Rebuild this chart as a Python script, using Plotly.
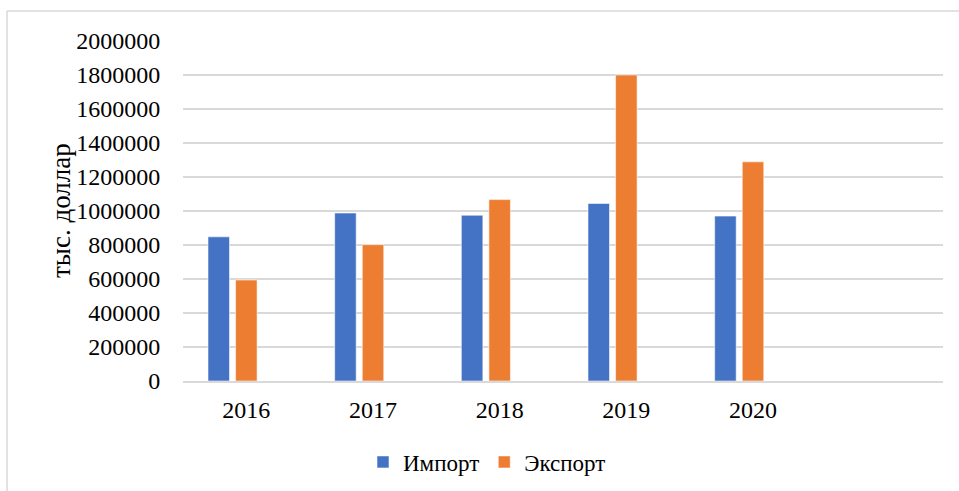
import plotly.graph_objects as go

years = ["2016", "2017", "2018", "2019", "2020", " "]
import_vals = [848000, 988000, 975000, 1044000, 970000, None]
export_vals = [594000, 802000, 1067000, 1800000, 1289000, None]
blank_vals = [None, None, None, None, None, None]
y_ticks = [0, 200000, 400000, 600000, 800000, 1000000, 1200000, 1400000, 1600000, 1800000, 2000000]

FONT = "Times New Roman, Liberation Serif, serif"

fig = go.Figure()
fig.add_trace(go.Bar(x=years, y=import_vals, name="Импорт",
                     marker=dict(color="#4472C4", line=dict(color="rgba(255,255,255,0.55)", width=1))))
fig.add_trace(go.Bar(x=years, y=export_vals, name="Экспорт",
                     marker=dict(color="#ED7D31", line=dict(color="rgba(255,255,255,0.55)", width=1))))
fig.add_trace(go.Bar(x=years, y=blank_vals, name="", showlegend=False,
                     marker=dict(color="rgba(0,0,0,0)")))

L, R, T, B = 183, 943, 41, 381
W, H = 959, 491
pw, ph = R - L, B - T

def px_x(x):
    return (x - L) / pw

def px_y(y):
    return (B - y) / ph

fig.update_layout(
    width=W, height=H,
    margin=dict(l=L, r=W - R, t=T, b=H - B, autoexpand=False),
    paper_bgcolor="white", plot_bgcolor="white",
    barmode="group", bargap=0.347, bargroupgap=0.22,
    font=dict(family=FONT, size=24, color="#000000"),
    xaxis=dict(type="category", categoryorder="array", categoryarray=years,
               range=[-0.5, 5.5], showgrid=False, showline=True, automargin=False,
               linecolor="#d9d9d9", linewidth=1.5,
               ticks="outside", ticklen=6, tickcolor="rgba(0,0,0,0)",
               tickfont=dict(family=FONT, size=24)),
    yaxis=dict(range=[0, 2000000], tickvals=y_ticks, automargin=False,
               ticktext=[str(v) for v in y_ticks],
               showgrid=True, gridcolor="#d9d9d9", gridwidth=1.5,
               zeroline=False, showline=False,
               ticks="outside", ticklen=17, tickcolor="rgba(0,0,0,0)",
               tickfont=dict(family=FONT, size=24)),
    legend=dict(orientation="h", x=px_x(487), xanchor="center",
                y=px_y(462), yanchor="middle",
                font=dict(family=FONT, size=23), itemwidth=30,
                bgcolor="rgba(0,0,0,0)"),
    showlegend=True,
    annotations=[dict(text="тыс. доллар", textangle=-90, x=px_x(61), y=0.5,
                      xref="paper", yref="paper", showarrow=False,
                      xanchor="center", yanchor="middle",
                      font=dict(family=FONT, size=27, color="#000000"))],
    shapes=[
        dict(type="line", xref="paper", yref="paper",
             x0=px_x(7), x1=px_x(960), y0=px_y(11), y1=px_y(11),
             line=dict(color="#d9d9d9", width=1.5)),
        dict(type="line", xref="paper", yref="paper",
             x0=px_x(7), x1=px_x(7), y0=px_y(11), y1=px_y(495),
             line=dict(color="#d9d9d9", width=1.5)),
    ],
)

fig.write_html("out.html", config={"displayModeBar": False},
               post_script="document.body.style.margin='0';")
